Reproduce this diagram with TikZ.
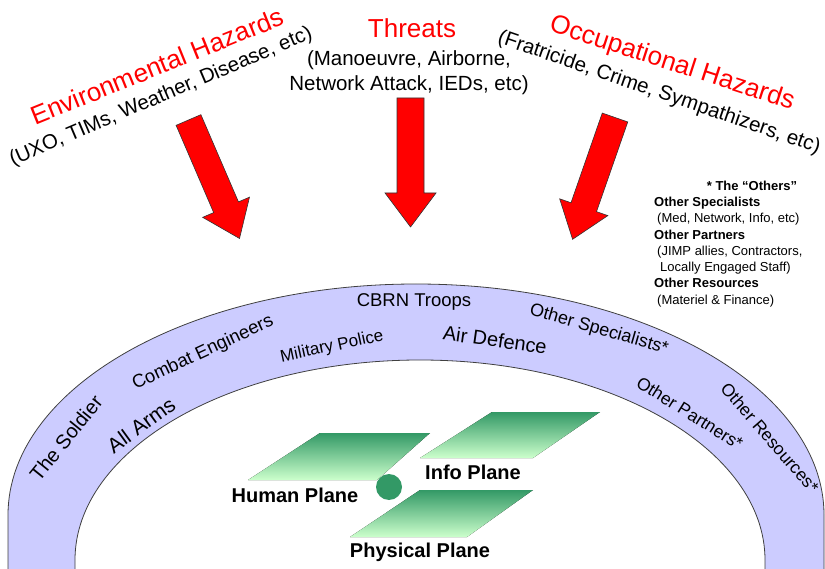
\documentclass[tikz,border=0pt]{standalone}
\usepackage{fontspec}
\setmainfont{Liberation Sans}
\usetikzlibrary{positioning}
\definecolor{bandfill}{RGB}{204,204,255}
\definecolor{planedark}{RGB}{51,153,102}
\definecolor{planelight}{RGB}{204,255,204}
\newcommand{\fsize}[2]{\fontsize{#1}{#2}\selectfont}
\tikzset{
    hazard/.style={text=red, font=\fsize{26}{28}, inner sep=0pt},
    hazardnote/.style={font=\fsize{20.5}{25}, align=center, inner sep=0pt},
    bandlabel/.style={font=\fsize{18}{18}, inner sep=0pt},
    bandedge/.style={draw=black!75, line width=0.8pt},
    planelabel/.style={font=\bfseries\fsize{20}{20}, inner sep=0pt},
    plane/.style={top color=planedark, bottom color=planelight},
    othershead/.style={font=\bfseries\fsize{13}{16}, inner sep=0pt},
}

\begin{document}
\begin{tikzpicture}[x=1pt, y=-1pt] % pixel grid, y downwards
	\useasboundingbox (0,0) rectangle (825,569);
	% the band of troops
	\fill[bandfill] (8,569) -- (8,515) arc[start angle=180, end angle=360, x radius=408, y radius=231] -- (824,569)
		-- (765,569) -- (765,560) arc[start angle=360, end angle=180, x radius=345, y radius=200] -- (75,569) -- cycle;
	\draw[bandedge] (8,569) -- (8,515) arc[start angle=180, end angle=360, x radius=408, y radius=231] -- (824,569);
	\draw[bandedge] (75,569) -- (75,560) arc[start angle=180, end angle=360, x radius=345, y radius=200] -- (765,569);
	\node[bandlabel, rotate=51, font=\fsize{20}{20}] (soldier) at (66,438) {The Soldier};
	\node[bandlabel, rotate=36, font=\fsize{21}{21}] (arms) at (141,425) {All Arms};
	\node[bandlabel, rotate=25, font=\fsize{18.5}{19}] (engineers) at (203,353) {Combat Engineers};
	\node[bandlabel, rotate=12, font=\fsize{17}{17}] (police) at (332,347) {Military Police};
	\node[bandlabel, font=\fsize{18.5}{19}] (cbrn) at (414,302) {CBRN Troops};
	\node[bandlabel, rotate=-8, font=\fsize{20}{20}] (airdef) at (495,340) {Air Defence};
	\node[bandlabel, rotate=-16] (specialists) at (599,330) {Other Specialists*};
	\node[bandlabel, rotate=-32, font=\fsize{17.5}{18}] (partners) at (690,413) {Other Partners*};
	\node[bandlabel, rotate=-49, font=\fsize{17.5}{18}] (resources) at (770,438) {Other Resources*};
	% hazards and threats
	\node[hazard, rotate=22] (envhaz) at (157,66) {Environmental Hazards};
	\node[hazardnote, rotate=23] (envnote) at (161,97) {(UXO, TIMs, Weather, Disease, etc)};
	\node[hazard] (threats) at (412,28) {Threats};
	\node[hazardnote] (threatnote) at (409,73) {(Manoeuvre, Airborne,\\Network Attack, IEDs, etc)};
	\node[hazard, rotate=-18] (occhaz) at (672,64) {Occupational Hazards};
	\node[hazardnote, rotate=-19] (occnote) at (659,93) {(Fratricide, Crime, Sympathizers, etc)};
	\foreach \px/\py/\ang in {188.5/120/23.3, 410.5/98/0, 615/117.5/-19.2}
		\filldraw[fill=red, draw=black!80, line width=0.6pt, shift={(\px,\py)}, rotate=\ang]
			(-13.5,0) -- (13.5,0) -- (13.5,95) -- (25.5,95) -- (0,129) -- (-25.5,95) -- (-13.5,95) -- cycle;
	% the others
	\node[othershead] (othershd) at (752,186) {* The “Others”};
	\node[anchor=west, align=left, inner sep=0pt, font=\fsize{13}{16.3}] (others) at (654,252)
		{\textbf{Other Specialists}\\\hspace{3pt}(Med, Network, Info, etc)\\\textbf{Other Partners}\\
		 \hspace{3pt}(JIMP allies, Contractors,\\\hspace{6pt}Locally Engaged Staff)\\
		 \textbf{Other Resources}\\\hspace{3pt}(Materiel \& Finance)};
	% planes
	\fill[plane] (320,433) -- (430,433) -- (377,480) -- (248,480) -- cycle;
	\fill[plane] (492,412) -- (600,412) -- (533,458) -- (420,458) -- cycle;
	\fill[plane] (420,490) -- (533,490) -- (467,537) -- (350,537) -- cycle;
	\node[circle, fill=planedark, minimum size=26pt, inner sep=0pt] (hub) at (389,487) {};
	\node[planelabel] (human) at (295,495) {Human Plane};
	\node[planelabel] (info) at (473,472) {Info Plane};
	\node[planelabel] (physical) at (420,552) {Physical Plane};
\end{tikzpicture}
\end{document}
